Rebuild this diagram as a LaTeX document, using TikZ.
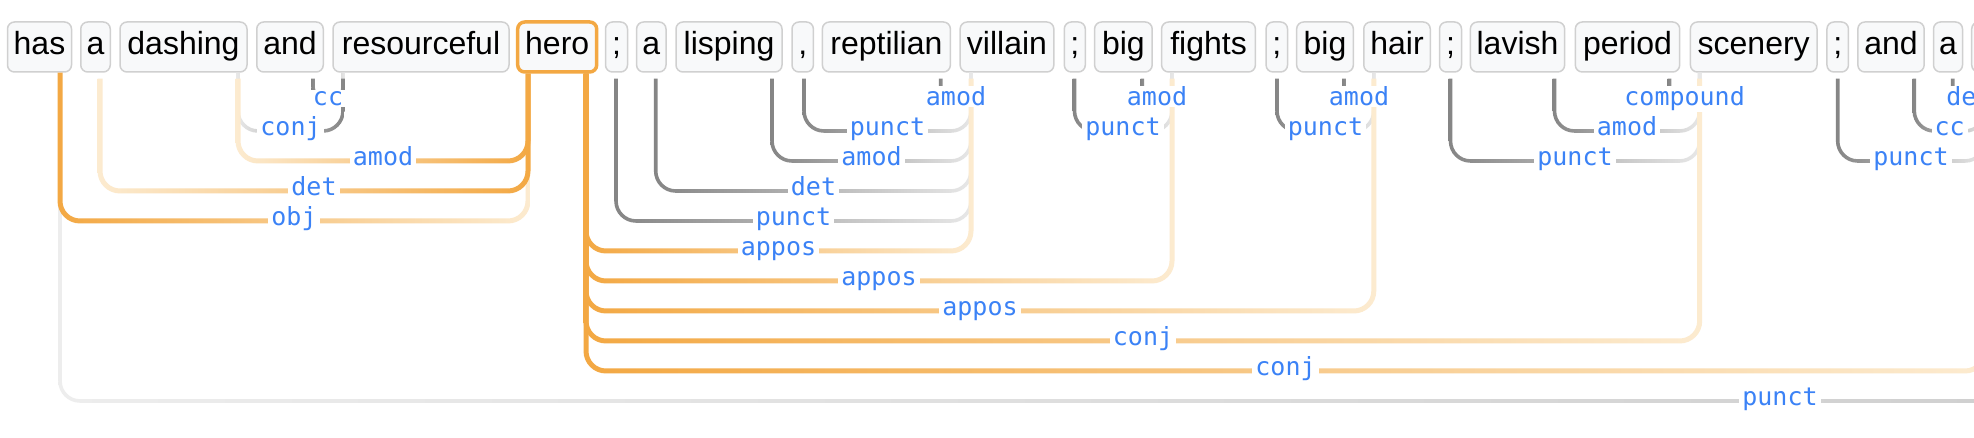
\documentclass[tikz,border=0pt]{standalone}
\usepackage{fontspec}
\setmainfont{Liberation Sans}
\newfontfamily\labfont{DejaVu Sans Mono}
\usetikzlibrary{calc}
\definecolor{OS}{HTML}{F3A843}
\definecolor{OL}{HTML}{FCEBD0}
\definecolor{GD}{HTML}{858585}
\definecolor{GL}{HTML}{E8E8E8}
\definecolor{GB}{HTML}{EDEDED}
\definecolor{GR}{HTML}{D0D0D0}
\definecolor{boxfill}{HTML}{F8F9FA}
\definecolor{boxline}{HTML}{D0D0D0}
\definecolor{labblue}{HTML}{3B82F6}
% connector drawn as a shaded band: #1 left end, #2 right end, #3 level,
% #4 corner radius, #5 half line width, #6 left colour, #7 right colour
\newcommand\depedge[7]{%
  \shade[left color=#6, right color=#7] let \p1=(#1), \p2=(#2), \p3=(#3) in
    (\x1-#5,\y1) -- (\x1-#5,\y3+#4)
    arc[start angle=180, end angle=270, radius=#4+#5]
    -- (\x2-#4,\y3-#5)
    arc[start angle=270, end angle=360, radius=#4+#5]
    -- (\x2+#5,\y2) -- (\x2-#5,\y2) -- (\x2-#5,\y3+#4)
    arc[start angle=0, end angle=-90, radius=#4-#5]
    -- (\x1+#4,\y3+#5)
    arc[start angle=270, end angle=180, radius=#4-#5]
    -- (\x1+#5,\y1) -- cycle;}
\begin{document}
\begin{tikzpicture}[x=1pt,y=-1pt,
  tok/.style={draw=boxline, line width=1.5pt, fill=boxfill, rounded corners=7pt,
    minimum height=50pt, inner sep=0pt, text height=23pt, text depth=7pt,
    font=\fontsize{32}{38}\selectfont},
  selbox/.style={tok, draw=OS, line width=3.5pt},
  lab/.style={font=\labfont\fontsize{25}{30}\selectfont, text=labblue, fill=white,
    inner xsep=3pt, inner ysep=1pt, anchor=base}]
\useasboundingbox (0,0) rectangle (1974,438);
\fill[white] (0,0) rectangle (1974,438);
\clip (0,0) rectangle (1974,438);
% tokens
\node[tok, minimum width=64pt]    (has)     at (39.5,47)   {has};
\node[tok, minimum width=29.5pt]  (a1)      at (95.5,47)   {a};
\node[tok, minimum width=127pt]   (dashing) at (183.5,47)  {dashing};
\node[tok, minimum width=66.5pt]  (and1)    at (290,47)    {and};
\node[tok, minimum width=176pt]   (resourceful) at (421,47) {resourceful};
\node[selbox, minimum width=79pt] (hero)    at (557.2,47)  {hero};
\node[tok, minimum width=22pt]    (semi1)   at (616.5,47)  {;};
\node[tok, minimum width=29.4pt]  (a2)      at (651.3,47)  {a};
\node[tok, minimum width=106pt]   (lisping) at (729,47)    {lisping};
\node[tok, minimum width=21.4pt]  (comma)   at (802.7,47)  {,};
\node[tok, minimum width=128pt]   (reptilian) at (886.4,47) {reptilian};
\node[tok, minimum width=93.7pt]  (villain) at (1007,47)   {villain};
\node[tok, minimum width=21pt]    (semi2)   at (1074.8,47) {;};
\node[tok, minimum width=57.6pt]  (big1)    at (1123.4,47) {big};
\node[tok, minimum width=93.8pt]  (fights)  at (1208.5,47) {fights};
\node[tok, minimum width=21.5pt]  (semi3)   at (1276.8,47) {;};
\node[tok, minimum width=56.7pt]  (big2)    at (1325,47)   {big};
\node[tok, minimum width=66.5pt]  (hair)    at (1397,47)   {hair};
\node[tok, minimum width=22pt]    (semi4)   at (1450.5,47) {;};
\node[tok, minimum width=94.3pt]  (lavish)  at (1517.5,47) {lavish};
\node[tok, minimum width=104.4pt] (period)  at (1627.5,47) {period};
\node[tok, minimum width=126.6pt] (scenery) at (1753.7,47) {scenery};
\node[tok, minimum width=21.5pt]  (semi5)   at (1837.7,47) {;};
\node[tok, minimum width=66.3pt]  (and2)    at (1891,47)   {and};
\node[tok, minimum width=29pt]    (a3)      at (1948,47)   {a};
\node[tok, minimum width=100pt]   (next)    at (2021.7,47) {};
% levels
\foreach \k in {1,...,11} {\coordinate (L\k) at (0,{71+30*\k});}
% attachment points (H = head end, D = dependent end)
\coordinate (hasH)   at ([xshift=20.5pt]has.south);
\coordinate (a1D)    at ([xshift=4.5pt,yshift=-6pt]a1.south);
\coordinate (dashH)  at ([xshift=54.5pt]dashing.south);
\coordinate (dashD)  at ([xshift=54.5pt,yshift=-6pt]dashing.south);
\coordinate (and1D)  at ([xshift=23pt,yshift=-6pt]and1.south);
\coordinate (resH)   at ([xshift=-78pt]resourceful.south);
\coordinate (resD)   at ([xshift=-78pt,yshift=-6pt]resourceful.south);
\coordinate (heroL)  at ([xshift=-29.2pt]hero.south);
\coordinate (heroLD) at ([xshift=-29.2pt,yshift=-6pt]hero.south);
\coordinate (heroR)  at ([xshift=28.8pt]hero.south);
\coordinate (semi1D) at ([xshift=-0.5pt,yshift=-6pt]semi1.south);
\coordinate (a2D)    at ([xshift=4.4pt,yshift=-6pt]a2.south);
\coordinate (lispD)  at ([xshift=43pt,yshift=-6pt]lisping.south);
\coordinate (commaD) at ([xshift=1.3pt,yshift=-6pt]comma.south);
\coordinate (reptD)  at ([xshift=54.3pt,yshift=-6pt]reptilian.south);
\coordinate (villH)  at ([xshift=-36pt]villain.south);
\coordinate (villD)  at ([xshift=-36pt,yshift=-6pt]villain.south);
\coordinate (semi2D) at ([xshift=-0.3pt,yshift=-6pt]semi2.south);
\coordinate (big1D)  at ([xshift=19pt,yshift=-6pt]big1.south);
\coordinate (fightsH) at ([xshift=-36.5pt]fights.south);
\coordinate (fightsD) at ([xshift=-36.5pt,yshift=-6pt]fights.south);
\coordinate (semi3D) at ([xshift=0.2pt,yshift=-6pt]semi3.south);
\coordinate (big2D)  at ([xshift=19pt,yshift=-6pt]big2.south);
\coordinate (hairH)  at ([xshift=-23.2pt]hair.south);
\coordinate (hairD)  at ([xshift=-23.2pt,yshift=-6pt]hair.south);
\coordinate (semi4D) at ([yshift=-6pt]semi4.south);
\coordinate (lavD)   at ([xshift=37pt,yshift=-6pt]lavish.south);
\coordinate (perD)   at ([xshift=42pt,yshift=-6pt]period.south);
\coordinate (scenH)  at ([xshift=-54pt]scenery.south);
\coordinate (scenD)  at ([xshift=-54pt,yshift=-6pt]scenery.south);
\coordinate (semi5D) at ([yshift=-6pt]semi5.south);
\coordinate (and2D)  at ([xshift=23.3pt,yshift=-6pt]and2.south);
\coordinate (a3D)    at ([xshift=4.7pt,yshift=-6pt]a3.south);
\coordinate (nextH)  at ([xshift=-36.7pt]next.south);
\coordinate (nextD)  at ([xshift=-36.7pt,yshift=-6pt]next.south);
\coordinate (far)    at (1990,401);
% gray edges
\shade[left color=GB, right color=GR] let \p1=(hasH), \p2=(far), \p3=(L11) in
  (\x1-1.8pt,\y1) -- (\x1-1.8pt,\y3+20pt)
  arc[start angle=180, end angle=270, radius=21.8pt]
  -- (\x2,\y3-1.8pt) -- (\x2,\y3+1.8pt) -- (\x1+20pt,\y3+1.8pt)
  arc[start angle=270, end angle=180, radius=18.2pt]
  -- (\x1+1.8pt,\y1) -- cycle;
\depedge{and1D}{resH}{L1}{14pt}{1.8pt}{GD}{GL}
\depedge{dashH}{resD}{L2}{20pt}{1.8pt}{GL}{GD}
\depedge{reptD}{villH}{L1}{14pt}{1.8pt}{GD}{GL}
\depedge{commaD}{villH}{L2}{20pt}{1.8pt}{GD}{GL}
\depedge{lispD}{villH}{L3}{20pt}{1.8pt}{GD}{GL}
\depedge{a2D}{villH}{L4}{20pt}{1.8pt}{GD}{GL}
\depedge{semi1D}{villH}{L5}{20pt}{1.8pt}{GD}{GL}
\depedge{big1D}{fightsH}{L1}{14pt}{1.8pt}{GD}{GL}
\depedge{semi2D}{fightsH}{L2}{20pt}{1.8pt}{GD}{GL}
\depedge{big2D}{hairH}{L1}{14pt}{1.8pt}{GD}{GL}
\depedge{semi3D}{hairH}{L2}{20pt}{1.8pt}{GD}{GL}
\depedge{perD}{scenH}{L1}{14pt}{1.8pt}{GD}{GL}
\depedge{lavD}{scenH}{L2}{20pt}{1.8pt}{GD}{GL}
\depedge{semi4D}{scenH}{L3}{20pt}{1.8pt}{GD}{GL}
\depedge{a3D}{nextH}{L1}{15pt}{1.8pt}{GD}{GL}
\depedge{and2D}{nextH}{L2}{20pt}{1.8pt}{GD}{GL}
\depedge{semi5D}{nextH}{L3}{20pt}{1.8pt}{GD}{GL}
% orange edges
\depedge{hasH}{heroLD}{L5}{20pt}{2.5pt}{OS}{OL}
\depedge{dashD}{heroL}{L3}{20pt}{2.5pt}{OL}{OS}
\depedge{a1D}{heroL}{L4}{20pt}{2.5pt}{OL}{OS}
\depedge{heroR}{villD}{L6}{20pt}{2.5pt}{OS}{OL}
\depedge{heroR}{fightsD}{L7}{20pt}{2.5pt}{OS}{OL}
\depedge{heroR}{hairD}{L8}{20pt}{2.5pt}{OS}{OL}
\depedge{heroR}{scenD}{L9}{20pt}{2.5pt}{OS}{OL}
\depedge{heroR}{nextD}{L10}{20pt}{2.5pt}{OS}{OL}
% labels
\node[lab] (l1)  at (328,105.5)    {cc};
\node[lab] (l2)  at (290.5,135.5)  {conj};
\node[lab] (l3)  at (383,165.5)    {amod};
\node[lab] (l4)  at (314,195.5)    {det};
\node[lab] (l5)  at (294,225.5)    {obj};
\node[lab] (l6)  at (956,105.5)    {amod};
\node[lab] (l7)  at (887.5,135.5)  {punct};
\node[lab] (l8)  at (871.5,165.5)  {amod};
\node[lab] (l9)  at (813.5,195.5)  {det};
\node[lab] (l10) at (793.5,225.5)  {punct};
\node[lab] (l11) at (778.5,255.5)  {appos};
\node[lab] (l12) at (879,285.5)    {appos};
\node[lab] (l13) at (980,315.5)    {appos};
\node[lab] (l14) at (1143,345.5)   {conj};
\node[lab] (l15) at (1285.5,375.5) {conj};
\node[lab] (l16) at (1780,405.5)   {punct};
\node[lab] (l17) at (1157,105.5)   {amod};
\node[lab] (l18) at (1123,135.5)   {punct};
\node[lab] (l19) at (1359,105.5)   {amod};
\node[lab] (l20) at (1325.5,135.5) {punct};
\node[lab] (l21) at (1684.6,105.5) {compound};
\node[lab] (l22) at (1627,135.5)   {amod};
\node[lab] (l23) at (1575,165.5)   {punct};
\node[lab] (l24) at (1969,105.5)   {det};
\node[lab] (l25) at (1949.6,135.5) {cc};
\node[lab] (l26) at (1911,165.5)   {punct};
\end{tikzpicture}
\end{document}
